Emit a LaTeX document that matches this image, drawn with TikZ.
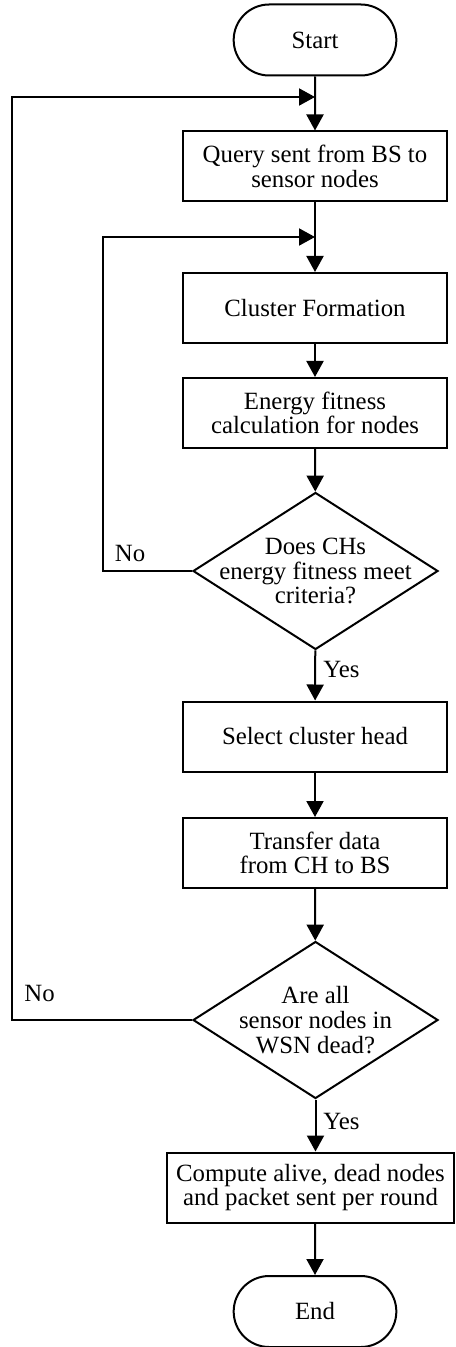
\documentclass[tikz,border=0pt]{standalone}
\usepackage{fontspec}
\setmainfont{Liberation Serif}
\usetikzlibrary{arrows.meta,shapes.geometric,shapes.misc}

\begin{document}
\begin{tikzpicture}[x=0.5pt,y=-0.5pt,
    font=\fontsize{12.4}{12.3}\selectfont,
    box/.style={draw, line width=1pt, minimum width=132pt, minimum height=35pt, align=center, inner sep=2pt},
    terminal/.style={draw, line width=1pt, rounded rectangle, minimum width=88pt, minimum height=35.5pt},
    decision/.style={draw, line width=1pt, diamond, minimum width=122.5pt, minimum height=78.5pt, inner sep=0pt},
    flow/.style={line width=1pt, -{Triangle[width=8.5pt,length=8pt]}}]
    \useasboundingbox (0,0) rectangle (455,1347);
    % coordinates
    \coordinate (outer-join) at (315,97);
    \coordinate (inner-join) at (315,237);
    % start and query
    \node[terminal] (start) at (315,40) {Start};
    \node[box] (query) at (315,166.5) {Query sent from BS to\\sensor nodes};
    % cluster formation and fitness
    \node[box] (cluster) at (315,308) {Cluster Formation};
    \node[box] (energy) at (315,413) {Energy fitness\\calculation for nodes};
    \node[decision] (check-ch) at (315.5,571) {};
    \node[align=center] (check-ch-text) at (check-ch) {Does CHs\\energy fitness meet\\criteria?};
    % cluster head and transfer
    \node[box] (select) at (315,736.5) {Select cluster head};
    \node[box] (transfer) at (315,853) {Transfer data\\from CH to BS};
    \node[decision] (check-dead) at (315.5,1020) {};
    \node[align=center] (check-dead-text) at (check-dead) {Are all\\sensor nodes in\\WSN dead?};
    % results and end
    \node[box, minimum width=143.5pt] (compute) at (310.5,1187.5) {Compute alive, dead nodes\\and packet sent per round};
    \node[terminal] (end) at (315,1311.5) {End};
    % labels
    \node (no-ch) at (130,553) {No};
    \node (yes-ch) at (341.5,669) {Yes};
    \node (no-dead) at (39.5,993) {No};
    \node (yes-dead) at (341.5,1121) {Yes};
    % main flow
    \draw[flow] (start) -- (query);
    \draw[flow] (query) -- (cluster);
    \draw[flow] (cluster) -- (energy);
    \draw[flow] (energy) -- (check-ch);
    \draw[flow] (check-ch) -- (select);
    \draw[flow] (select) -- (transfer);
    \draw[flow] (transfer) -- (check-dead);
    \draw[flow] (check-dead.south) -- (check-dead.south |- compute.north);
    \draw[flow] (end.north |- compute.south) -- (end);
    % loops back
    \draw[flow] (check-ch.west) -- ++(-89,0) |- (inner-join);
    \draw[flow] (check-dead.west) -- ++(-180,0) |- (outer-join);
\end{tikzpicture}
\end{document}
